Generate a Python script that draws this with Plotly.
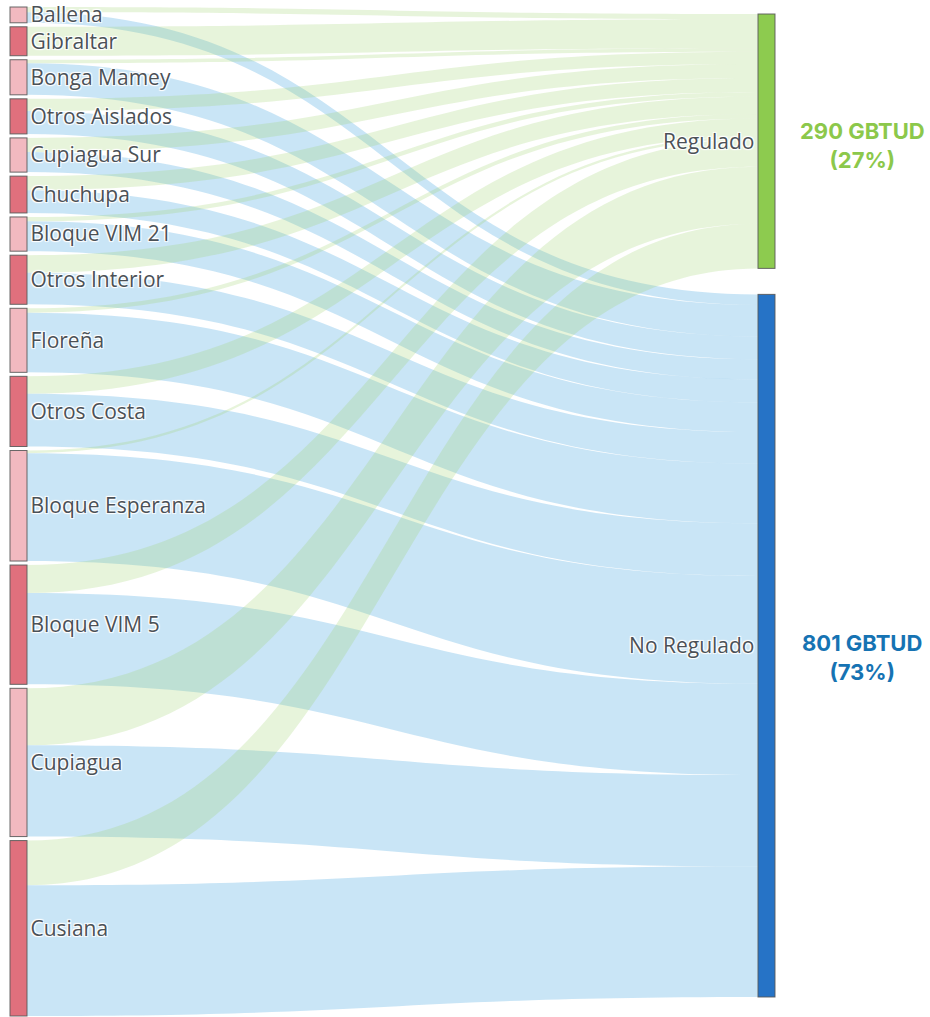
import plotly.graph_objects as go

# ---------------- data ----------------
sources = ["Ballena", "Gibraltar", "Bonga Mamey", "Otros Aislados", "Cupiagua Sur",
           "Chuchupa", "Bloque VIM 21", "Otros Interior", "Floreña", "Otros Costa",
           "Bloque Esperanza", "Bloque VIM 5", "Cupiagua", "Cusiana"]
targets = ["Regulado", "No Regulado"]
regulado = [6, 33, 4, 14, 16, 16, 5, 20, 5, 20, 3, 32, 65, 51]
no_regulado = [12, 0, 36, 26, 23, 26, 34, 36, 68, 60, 123, 104, 104, 149]
unit = "GBTUD"

# ---------------- style ----------------
W, H = 930, 1017
DOM_X = (10, 775)       # px
DOM_Y = (7, 1016)       # px from top
THICK = 17
PAD = 4
REG_TOP = 7             # px from domain top
NOREG_BOTTOM = 990      # px from domain top

src_light = "#F2B9C0"
src_dark = "#E0707D"
col_reg = "#8DCB4F"
col_noreg = "#2673C6"
link_reg = "rgba(160,210,110,0.25)"
link_noreg = "rgba(120,190,232,0.40)"
txt_reg = "#8CC84B"
txt_noreg = "#1673B3"

# ---------------- layout computations ----------------
dom_w = DOM_X[1] - DOM_X[0]
dom_h = DOM_Y[1] - DOM_Y[0]
totals = [r + n for r, n in zip(regulado, no_regulado)]
grand = sum(totals)
ky = (dom_h - (len(sources) - 1) * PAD) / grand

labels = sources + targets
node_x, node_y, node_col = [], [], []
cum = 0.0
for i, t in enumerate(totals):
    h = t * ky
    y0 = cum + i * PAD
    node_x.append((THICK / 2) / dom_w)
    node_y.append((y0 + h / 2) / dom_h)
    node_col.append(src_light if i % 2 == 0 else src_dark)
    cum += h

reg_total = sum(regulado)
noreg_total = sum(no_regulado)
node_x += [1 - (THICK / 2) / dom_w] * 2
node_y += [(REG_TOP + reg_total * ky / 2) / dom_h,
           (NOREG_BOTTOM - noreg_total * ky / 2) / dom_h]
node_col += [col_reg, col_noreg]

link_s, link_t, link_v, link_c = [], [], [], []
n_src = len(sources)
for i in range(n_src):
    if regulado[i] > 0:
        link_s.append(i); link_t.append(n_src); link_v.append(regulado[i]); link_c.append(link_reg)
    if no_regulado[i] > 0:
        link_s.append(i); link_t.append(n_src + 1); link_v.append(no_regulado[i]); link_c.append(link_noreg)

fig = go.Figure(go.Sankey(
    arrangement="fixed",
    domain=dict(x=[DOM_X[0] / W, DOM_X[1] / W], y=[1 - DOM_Y[1] / H, 1 - DOM_Y[0] / H]),
    node=dict(label=labels, x=node_x, y=node_y, color=node_col, pad=PAD, thickness=THICK,
              line=dict(color="rgba(90,90,90,0.9)", width=1)),
    link=dict(source=link_s, target=link_t, value=link_v, color=link_c),
    textfont=dict(family="Open Sans", size=21, color="#4b5157"),
))

reg_pct = round(100 * reg_total / grand)
noreg_pct = round(100 * noreg_total / grand)
reg_center = DOM_Y[0] + REG_TOP + reg_total * ky / 2
noreg_center = DOM_Y[0] + NOREG_BOTTOM - noreg_total * ky / 2
fig.add_annotation(x=862 / W, y=1 - (reg_center + 4) / H, xref="paper", yref="paper",
                   xanchor="center", yanchor="middle",
                   text=f"<b>{reg_total} {unit}<br>({reg_pct}%)</b>", showarrow=False,
                   font=dict(family="Inter", size=22, color=txt_reg), align="center")
fig.add_annotation(x=862 / W, y=1 - (noreg_center + 12) / H, xref="paper", yref="paper",
                   xanchor="center", yanchor="middle",
                   text=f"<b>{noreg_total} {unit}<br>({noreg_pct}%)</b>", showarrow=False,
                   font=dict(family="Inter", size=22, color=txt_noreg), align="center")

fig.update_layout(width=W, height=H, margin=dict(l=0, r=0, t=0, b=0),
                  paper_bgcolor="white", plot_bgcolor="white")

fig.write_html("out.html", config={"displayModeBar": False},
               post_script="document.body.style.margin='0';")
